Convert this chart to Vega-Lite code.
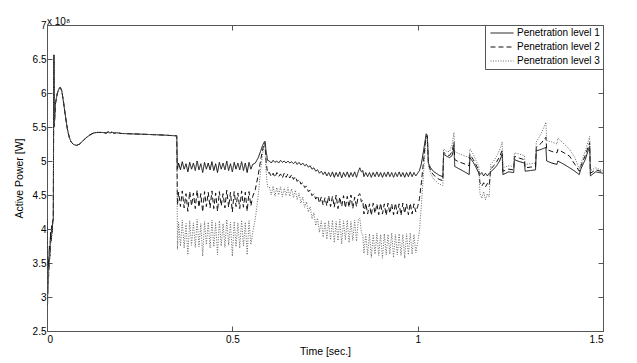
{
  "$schema": "https://vega.github.io/schema/vega-lite/v6.json",
  "width": 556,
  "height": 306,
  "autosize": "none",
  "padding": {"left": 47, "top": 25, "right": 34, "bottom": 32},
  "background": "white",
  "config": {
    "font": "Liberation Sans",
    "view": {"stroke": "#555", "strokeWidth": 1},
    "axis": {"grid": false, "domain": false, "tickColor": "#555", "tickSize": -5, "labelColor": "#000", "labelFontSize": 10, "titleFontSize": 10.5, "titleFontWeight": "normal", "titleColor": "#000", "labelFont": "Liberation Sans", "titleFont": "Liberation Sans"},
    "legend": {"labelFont": "Liberation Sans", "labelFontSize": 10, "labelColor": "#000"}
  },
  "title": {"text": "x 10⁸", "anchor": "start", "frame": "group", "fontSize": 10, "fontWeight": "normal", "offset": 1, "dy": 8, "color": "#000", "font": "Liberation Sans"},
  "data": {"values": [
    {"t":0,"p1":2.88,"p2":2.95,"p3":2.85},
    {"t":0.001,"p1":4.15,"p2":4.1,"p3":4.17},
    {"t":0.002,"p1":3.05,"p2":3.2,"p3":2.9},
    {"t":0.0035,"p1":3.55,"p2":3.5,"p3":3.45},
    {"t":0.005,"p1":3.4,"p2":3.45,"p3":3.3},
    {"t":0.0065,"p1":3.75,"p2":3.7,"p3":3.7},
    {"t":0.008,"p1":3.65,"p2":3.6,"p3":3.55},
    {"t":0.0095,"p1":3.95,"p2":3.9,"p3":3.85},
    {"t":0.011,"p1":3.85,"p2":3.8,"p3":3.8},
    {"t":0.0125,"p1":4.05,"p2":4.0,"p3":4.0},
    {"t":0.014,"p1":3.95,"p2":3.95,"p3":3.9},
    {"t":0.0155,"p1":4.12,"p2":4.1,"p3":4.08},
    {"t":0.017,"p1":4.15,"p2":4.15,"p3":4.14},
    {"t":0.0185,"p1":6.56,"p2":6.56,"p3":6.56},
    {"t":0.0195,"p1":5.5,"p2":5.5,"p3":5.5},
    {"t":0.023,"p1":5.85,"p2":5.85,"p3":5.85},
    {"t":0.028,"p1":6.0,"p2":6.0,"p3":6.0},
    {"t":0.033,"p1":6.07,"p2":6.07,"p3":6.07},
    {"t":0.036,"p1":6.08,"p2":6.08,"p3":6.08},
    {"t":0.04,"p1":6.03,"p2":6.03,"p3":6.03},
    {"t":0.045,"p1":5.85,"p2":5.85,"p3":5.85},
    {"t":0.05,"p1":5.65,"p2":5.65,"p3":5.65},
    {"t":0.055,"p1":5.47,"p2":5.47,"p3":5.47},
    {"t":0.06,"p1":5.35,"p2":5.35,"p3":5.35},
    {"t":0.065,"p1":5.28,"p2":5.28,"p3":5.28},
    {"t":0.072,"p1":5.24,"p2":5.24,"p3":5.24},
    {"t":0.08,"p1":5.23,"p2":5.23,"p3":5.23},
    {"t":0.088,"p1":5.25,"p2":5.25,"p3":5.25},
    {"t":0.096,"p1":5.29,"p2":5.29,"p3":5.29},
    {"t":0.105,"p1":5.34,"p2":5.34,"p3":5.34},
    {"t":0.115,"p1":5.38,"p2":5.38,"p3":5.38},
    {"t":0.125,"p1":5.41,"p2":5.41,"p3":5.41},
    {"t":0.135,"p1":5.42,"p2":5.42,"p3":5.42},
    {"t":0.15,"p1":5.42,"p2":5.42,"p3":5.42},
    {"t":0.16,"p1":5.41,"p2":5.41,"p3":5.41},
    {"t":0.165,"p1":5.43,"p2":5.43,"p3":5.43},
    {"t":0.17,"p1":5.41,"p2":5.41,"p3":5.41},
    {"t":0.175,"p1":5.425,"p2":5.425,"p3":5.425},
    {"t":0.18,"p1":5.41,"p2":5.41,"p3":5.41},
    {"t":0.19,"p1":5.415,"p2":5.415,"p3":5.415},
    {"t":0.2,"p1":5.405,"p2":5.405,"p3":5.405},
    {"t":0.25,"p1":5.395,"p2":5.395,"p3":5.395},
    {"t":0.3,"p1":5.385,"p2":5.385,"p3":5.385},
    {"t":0.35,"p1":5.37,"p2":5.37,"p3":5.37},
    {"t":0.352,"p1":4.88,"p2":4.35,"p3":3.7},
    {"t":0.355,"p1":4.97,"p2":4.54,"p3":4.10},
    {"t":0.36,"p1":4.87,"p2":4.33,"p3":3.75},
    {"t":0.365,"p1":4.99,"p2":4.56,"p3":4.13},
    {"t":0.37,"p1":4.88,"p2":4.31,"p3":3.72},
    {"t":0.375,"p1":4.96,"p2":4.52,"p3":4.08},
    {"t":0.38,"p1":4.84,"p2":4.26,"p3":3.62},
    {"t":0.385,"p1":4.98,"p2":4.55,"p3":4.12},
    {"t":0.39,"p1":4.88,"p2":4.34,"p3":3.76},
    {"t":0.395,"p1":4.97,"p2":4.53,"p3":4.09},
    {"t":0.4,"p1":4.86,"p2":4.30,"p3":3.73},
    {"t":0.405,"p1":5.00,"p2":4.57,"p3":4.14},
    {"t":0.41,"p1":4.87,"p2":4.32,"p3":3.74},
    {"t":0.415,"p1":4.96,"p2":4.52,"p3":4.08},
    {"t":0.42,"p1":4.83,"p2":4.25,"p3":3.60},
    {"t":0.425,"p1":4.98,"p2":4.55,"p3":4.11},
    {"t":0.43,"p1":4.88,"p2":4.33,"p3":3.77},
    {"t":0.435,"p1":4.97,"p2":4.54,"p3":4.10},
    {"t":0.44,"p1":4.87,"p2":4.31,"p3":3.72},
    {"t":0.445,"p1":4.99,"p2":4.56,"p3":4.13},
    {"t":0.45,"p1":4.86,"p2":4.30,"p3":3.74},
    {"t":0.455,"p1":4.96,"p2":4.53,"p3":4.09},
    {"t":0.46,"p1":4.83,"p2":4.26,"p3":3.62},
    {"t":0.465,"p1":4.98,"p2":4.55,"p3":4.12},
    {"t":0.47,"p1":4.88,"p2":4.34,"p3":3.75},
    {"t":0.475,"p1":4.97,"p2":4.52,"p3":4.08},
    {"t":0.48,"p1":4.87,"p2":4.31,"p3":3.73},
    {"t":0.485,"p1":5.00,"p2":4.57,"p3":4.14},
    {"t":0.49,"p1":4.86,"p2":4.32,"p3":3.76},
    {"t":0.495,"p1":4.96,"p2":4.54,"p3":4.10},
    {"t":0.5,"p1":4.84,"p2":4.25,"p3":3.60},
    {"t":0.505,"p1":4.98,"p2":4.55,"p3":4.11},
    {"t":0.51,"p1":4.88,"p2":4.33,"p3":3.74},
    {"t":0.515,"p1":4.97,"p2":4.53,"p3":4.09},
    {"t":0.52,"p1":4.87,"p2":4.30,"p3":3.72},
    {"t":0.525,"p1":4.99,"p2":4.56,"p3":4.13},
    {"t":0.53,"p1":4.86,"p2":4.32,"p3":3.75},
    {"t":0.535,"p1":4.97,"p2":4.54,"p3":4.10},
    {"t":0.54,"p1":4.83,"p2":4.26,"p3":3.62},
    {"t":0.545,"p1":4.98,"p2":4.55,"p3":4.12},
    {"t":0.55,"p1":4.88,"p2":4.34,"p3":3.77},
    {"t":0.555,"p1":4.95,"p2":4.48,"p3":3.95},
    {"t":0.562,"p1":4.97,"p2":4.58,"p3":4.15},
    {"t":0.57,"p1":5.05,"p2":4.8,"p3":4.5},
    {"t":0.576,"p1":5.14,"p2":5.0,"p3":4.85},
    {"t":0.581,"p1":5.22,"p2":5.15,"p3":5.08},
    {"t":0.585,"p1":5.27,"p2":5.24,"p3":5.2},
    {"t":0.588,"p1":5.29,"p2":5.27,"p3":5.24},
    {"t":0.591,"p1":5.15,"p2":5.0,"p3":4.85},
    {"t":0.595,"p1":5.01,"p2":4.82,"p3":4.62},
    {"t":0.6,"p1":5.00,"p2":4.83,"p3":4.62},
    {"t":0.605,"p1":4.97,"p2":4.77,"p3":4.50},
    {"t":0.61,"p1":5.01,"p2":4.82,"p3":4.63},
    {"t":0.615,"p1":4.98,"p2":4.76,"p3":4.48},
    {"t":0.62,"p1":5.00,"p2":4.83,"p3":4.61},
    {"t":0.625,"p1":4.97,"p2":4.77,"p3":4.50},
    {"t":0.63,"p1":5.01,"p2":4.81,"p3":4.62},
    {"t":0.635,"p1":4.98,"p2":4.75,"p3":4.47},
    {"t":0.64,"p1":5.00,"p2":4.82,"p3":4.60},
    {"t":0.645,"p1":4.97,"p2":4.76,"p3":4.49},
    {"t":0.65,"p1":5.00,"p2":4.81,"p3":4.61},
    {"t":0.655,"p1":4.97,"p2":4.75,"p3":4.48},
    {"t":0.66,"p1":4.99,"p2":4.80,"p3":4.59},
    {"t":0.665,"p1":4.96,"p2":4.73,"p3":4.46},
    {"t":0.67,"p1":4.99,"p2":4.77,"p3":4.57},
    {"t":0.675,"p1":4.95,"p2":4.70,"p3":4.43},
    {"t":0.68,"p1":4.98,"p2":4.73,"p3":4.53},
    {"t":0.685,"p1":4.94,"p2":4.66,"p3":4.38},
    {"t":0.69,"p1":4.97,"p2":4.68,"p3":4.47},
    {"t":0.695,"p1":4.93,"p2":4.61,"p3":4.32},
    {"t":0.7,"p1":4.95,"p2":4.63,"p3":4.40},
    {"t":0.705,"p1":4.91,"p2":4.55,"p3":4.25},
    {"t":0.71,"p1":4.93,"p2":4.57,"p3":4.33},
    {"t":0.715,"p1":4.88,"p2":4.49,"p3":4.15},
    {"t":0.72,"p1":4.90,"p2":4.52,"p3":4.24},
    {"t":0.725,"p1":4.85,"p2":4.44,"p3":4.05},
    {"t":0.73,"p1":4.87,"p2":4.49,"p3":4.16},
    {"t":0.735,"p1":4.82,"p2":4.38,"p3":3.95},
    {"t":0.74,"p1":4.85,"p2":4.47,"p3":4.12},
    {"t":0.745,"p1":4.80,"p2":4.35,"p3":3.88},
    {"t":0.75,"p1":4.84,"p2":4.46,"p3":4.10},
    {"t":0.755,"p1":4.78,"p2":4.34,"p3":3.85},
    {"t":0.76,"p1":4.83,"p2":4.49,"p3":4.12},
    {"t":0.765,"p1":4.77,"p2":4.33,"p3":3.84},
    {"t":0.77,"p1":4.84,"p2":4.48,"p3":4.13},
    {"t":0.775,"p1":4.76,"p2":4.32,"p3":3.80},
    {"t":0.78,"p1":4.83,"p2":4.50,"p3":4.11},
    {"t":0.785,"p1":4.77,"p2":4.30,"p3":3.83},
    {"t":0.79,"p1":4.84,"p2":4.47,"p3":4.14},
    {"t":0.795,"p1":4.75,"p2":4.33,"p3":3.78},
    {"t":0.8,"p1":4.83,"p2":4.49,"p3":4.12},
    {"t":0.805,"p1":4.77,"p2":4.31,"p3":3.84},
    {"t":0.81,"p1":4.84,"p2":4.48,"p3":4.13},
    {"t":0.815,"p1":4.76,"p2":4.32,"p3":3.80},
    {"t":0.82,"p1":4.83,"p2":4.50,"p3":4.11},
    {"t":0.825,"p1":4.77,"p2":4.30,"p3":3.83},
    {"t":0.83,"p1":4.84,"p2":4.47,"p3":4.13},
    {"t":0.835,"p1":4.76,"p2":4.33,"p3":3.82},
    {"t":0.84,"p1":4.85,"p2":4.50,"p3":4.14},
    {"t":0.844,"p1":4.90,"p2":4.52,"p3":4.16},
    {"t":0.848,"p1":4.84,"p2":4.40,"p3":3.95},
    {"t":0.852,"p1":4.86,"p2":4.42,"p3":3.92},
    {"t":0.855,"p1":4.77,"p2":4.22,"p3":3.64},
    {"t":0.86,"p1":4.83,"p2":4.38,"p3":3.92},
    {"t":0.865,"p1":4.77,"p2":4.22,"p3":3.62},
    {"t":0.87,"p1":4.83,"p2":4.37,"p3":3.93},
    {"t":0.875,"p1":4.76,"p2":4.20,"p3":3.58},
    {"t":0.88,"p1":4.83,"p2":4.38,"p3":3.92},
    {"t":0.885,"p1":4.77,"p2":4.23,"p3":3.63},
    {"t":0.89,"p1":4.84,"p2":4.37,"p3":3.94},
    {"t":0.895,"p1":4.77,"p2":4.21,"p3":3.61},
    {"t":0.9,"p1":4.83,"p2":4.38,"p3":3.92},
    {"t":0.905,"p1":4.76,"p2":4.22,"p3":3.57},
    {"t":0.91,"p1":4.83,"p2":4.37,"p3":3.93},
    {"t":0.915,"p1":4.77,"p2":4.20,"p3":3.62},
    {"t":0.92,"p1":4.84,"p2":4.38,"p3":3.92},
    {"t":0.925,"p1":4.77,"p2":4.23,"p3":3.63},
    {"t":0.93,"p1":4.83,"p2":4.37,"p3":3.94},
    {"t":0.935,"p1":4.76,"p2":4.21,"p3":3.58},
    {"t":0.94,"p1":4.83,"p2":4.38,"p3":3.92},
    {"t":0.945,"p1":4.77,"p2":4.22,"p3":3.62},
    {"t":0.95,"p1":4.84,"p2":4.37,"p3":3.93},
    {"t":0.955,"p1":4.77,"p2":4.20,"p3":3.61},
    {"t":0.96,"p1":4.83,"p2":4.38,"p3":3.92},
    {"t":0.965,"p1":4.76,"p2":4.23,"p3":3.57},
    {"t":0.97,"p1":4.83,"p2":4.37,"p3":3.93},
    {"t":0.975,"p1":4.77,"p2":4.21,"p3":3.62},
    {"t":0.98,"p1":4.84,"p2":4.38,"p3":3.94},
    {"t":0.985,"p1":4.77,"p2":4.22,"p3":3.63},
    {"t":0.99,"p1":4.83,"p2":4.37,"p3":3.92},
    {"t":0.995,"p1":4.78,"p2":4.25,"p3":3.65},
    {"t":1.0,"p1":4.82,"p2":4.33,"p3":3.80},
    {"t":1.005,"p1":4.86,"p2":4.45,"p3":3.98},
    {"t":1.01,"p1":4.96,"p2":4.68,"p3":4.35},
    {"t":1.015,"p1":5.12,"p2":4.95,"p3":4.75},
    {"t":1.019,"p1":5.26,"p2":5.18,"p3":5.08},
    {"t":1.023,"p1":5.40,"p2":5.37,"p3":5.33},
    {"t":1.026,"p1":5.38,"p2":5.36,"p3":5.34},
    {"t":1.029,"p1":4.97,"p2":4.95,"p3":4.92},
    {"t":1.035,"p1":4.90,"p2":4.86,"p3":4.82},
    {"t":1.042,"p1":4.85,"p2":4.80,"p3":4.74},
    {"t":1.05,"p1":4.82,"p2":4.76,"p3":4.70},
    {"t":1.058,"p1":4.79,"p2":4.73,"p3":4.66},
    {"t":1.068,"p1":4.77,"p2":4.71,"p3":4.64},
    {"t":1.07,"p1":5.10,"p2":5.13,"p3":5.18},
    {"t":1.078,"p1":5.07,"p2":5.09,"p3":5.14},
    {"t":1.086,"p1":5.05,"p2":5.08,"p3":5.14},
    {"t":1.093,"p1":5.08,"p2":5.14,"p3":5.24},
    {"t":1.098,"p1":5.20,"p2":5.28,"p3":5.42},
    {"t":1.1,"p1":4.92,"p2":5.02,"p3":5.14},
    {"t":1.11,"p1":4.89,"p2":4.99,"p3":5.11},
    {"t":1.12,"p1":4.86,"p2":4.97,"p3":5.09},
    {"t":1.13,"p1":4.83,"p2":4.95,"p3":5.07},
    {"t":1.139,"p1":4.80,"p2":4.93,"p3":5.05},
    {"t":1.141,"p1":5.05,"p2":5.10,"p3":5.18},
    {"t":1.15,"p1":4.98,"p2":5.02,"p3":5.10},
    {"t":1.158,"p1":4.90,"p2":4.94,"p3":5.00},
    {"t":1.165,"p1":4.82,"p2":4.86,"p3":4.92},
    {"t":1.168,"p1":4.80,"p2":4.68,"p3":4.52},
    {"t":1.173,"p1":4.83,"p2":4.63,"p3":4.45},
    {"t":1.178,"p1":4.78,"p2":4.68,"p3":4.55},
    {"t":1.183,"p1":4.82,"p2":4.62,"p3":4.43},
    {"t":1.188,"p1":4.78,"p2":4.67,"p3":4.52},
    {"t":1.193,"p1":4.82,"p2":4.64,"p3":4.47},
    {"t":1.197,"p1":4.84,"p2":4.88,"p3":4.95},
    {"t":1.205,"p1":4.88,"p2":4.93,"p3":5.00},
    {"t":1.213,"p1":4.93,"p2":4.99,"p3":5.07},
    {"t":1.221,"p1":5.00,"p2":5.06,"p3":5.16},
    {"t":1.228,"p1":5.10,"p2":5.16,"p3":5.28},
    {"t":1.23,"p1":4.80,"p2":4.85,"p3":4.90},
    {"t":1.245,"p1":4.84,"p2":4.88,"p3":4.93},
    {"t":1.259,"p1":4.83,"p2":4.87,"p3":4.92},
    {"t":1.261,"p1":5.02,"p2":5.07,"p3":5.12},
    {"t":1.275,"p1":4.99,"p2":5.04,"p3":5.10},
    {"t":1.288,"p1":4.97,"p2":5.02,"p3":5.08},
    {"t":1.29,"p1":4.85,"p2":4.90,"p3":4.95},
    {"t":1.305,"p1":4.86,"p2":4.91,"p3":4.96},
    {"t":1.318,"p1":4.87,"p2":4.92,"p3":4.97},
    {"t":1.32,"p1":5.15,"p2":5.20,"p3":5.28},
    {"t":1.333,"p1":5.17,"p2":5.26,"p3":5.40},
    {"t":1.346,"p1":5.20,"p2":5.35,"p3":5.57},
    {"t":1.348,"p1":5.00,"p2":5.17,"p3":5.30},
    {"t":1.362,"p1":4.97,"p2":5.14,"p3":5.28},
    {"t":1.376,"p1":4.95,"p2":5.12,"p3":5.25},
    {"t":1.378,"p1":5.00,"p2":5.17,"p3":5.34},
    {"t":1.395,"p1":4.95,"p2":5.12,"p3":5.25},
    {"t":1.41,"p1":4.90,"p2":5.07,"p3":5.17},
    {"t":1.424,"p1":4.85,"p2":4.95,"p3":5.05},
    {"t":1.436,"p1":4.80,"p2":4.85,"p3":4.88},
    {"t":1.44,"p1":4.88,"p2":4.92,"p3":4.96},
    {"t":1.452,"p1":5.02,"p2":5.08,"p3":5.14},
    {"t":1.464,"p1":5.22,"p2":5.27,"p3":5.36},
    {"t":1.466,"p1":4.78,"p2":4.82,"p3":4.86},
    {"t":1.48,"p1":4.84,"p2":4.87,"p3":4.90},
    {"t":1.5,"p1":4.82,"p2":4.84,"p3":4.86}
  ]},
  "transform": [{"fold": ["p1", "p2", "p3"], "as": ["series", "v"]}],
  "layer": [
    {
      "mark": {"type": "line", "strokeWidth": 1, "clip": true},
      "encoding": {
        "x": {"field": "t", "type": "quantitative", "scale": {"domain": [0, 1.5], "nice": false, "zero": false},
              "axis": {"orient": "bottom", "values": [0, 0.5, 1, 1.5], "format": "~g", "labelPadding": 8, "title": "Time [sec.]", "titlePadding": 2}},
        "y": {"field": "v", "type": "quantitative", "scale": {"domain": [2.5, 7], "nice": false, "zero": false},
              "axis": {"orient": "left", "values": [2.5, 3, 3.5, 4, 4.5, 5, 5.5, 6, 6.5, 7], "format": "~g", "labelPadding": 6, "title": "Active Power [W]", "titlePadding": 8}},
        "color": {"field": "series", "type": "nominal", "scale": {"domain": ["p1", "p2", "p3"], "range": ["#111111", "#111111", "#666666"]},
                  "legend": {"title": null, "orient": "top-right", "offset": 0, "labelExpr": "replace(datum.label, 'p', 'Penetration level ')", "symbolType": "M-3,0H3", "symbolSize": 59, "symbolOffset": 9, "symbolStrokeWidth": 1, "strokeColor": "#555", "fillColor": "white", "padding": 3, "rowPadding": 4, "labelOffset": 10, "cornerRadius": 0}},
        "strokeDash": {"field": "series", "type": "nominal", "scale": {"domain": ["p1", "p2", "p3"], "range": [[1, 0], [5, 3], [1, 1.5]]},
                       "legend": {"title": null, "orient": "top-right", "offset": 0, "labelExpr": "replace(datum.label, 'p', 'Penetration level ')", "symbolType": "M-3,0H3", "symbolSize": 59, "symbolOffset": 9, "symbolStrokeWidth": 1, "strokeColor": "#555", "fillColor": "white", "padding": 3, "rowPadding": 4, "labelOffset": 10, "cornerRadius": 0}}
      }
    },
    {
      "mark": {"type": "point", "opacity": 0},
      "encoding": {
        "x": {"field": "t", "type": "quantitative", "axis": {"orient": "top", "values": [0, 0.5, 1, 1.5], "labels": false, "title": null}},
        "y": {"field": "v", "type": "quantitative", "axis": {"orient": "right", "values": [2.5, 3, 3.5, 4, 4.5, 5, 5.5, 6, 6.5, 7], "labels": false, "title": null}}
      }
    }
  ]
}
